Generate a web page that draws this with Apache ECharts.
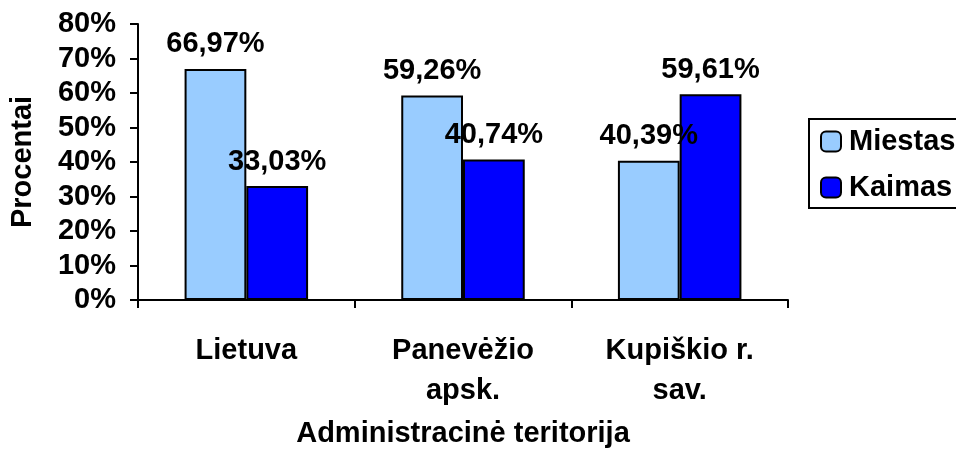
<!DOCTYPE html>
<html>
<head>
<meta charset="utf-8">
<script src="https://cdn.jsdelivr.net/npm/echarts@6/dist/echarts.min.js"></script>
<style>
  html, body { margin: 0; padding: 0; background: #fff; }
  #chart { width: 956px; height: 453px; }
</style>
</head>
<body>
<div id="chart"></div>
<script>
const categories = ['Lietuva', 'Panevėžio\napsk.', 'Kupiškio r.\nsav.']
const miestas = [66.97, 59.26, 40.39]
const kaimas = [33.03, 40.74, 59.61]
const font = '"Liberation Sans", Arial, sans-serif'

const chart = echarts.init(document.getElementById('chart'))

// lithuanian decimal comma
const pct = p => p.value.toFixed(2).replace('.', ',') + '%'

const labelStyle = {
  show: true,
  position: 'top',
  distance: 10,
  formatter: pct,
  color: '#000',
  fontFamily: font,
  fontWeight: 'bold',
  fontSize: 29
}

const option = {
  animation: false,
  backgroundColor: '#fff',
  grid: { left: 136, right: 168, top: 24, bottom: 149 },
  legend: {
    orient: 'vertical',
    left: 809,
    top: 119,
    padding: [8, 20, 6, 11],
    itemWidth: 20,
    itemHeight: 20,
    itemGap: 17,
    borderColor: '#000',
    borderWidth: 2,
    textStyle: { color: '#000', fontFamily: font, fontWeight: 'bold', fontSize: 29, padding: [0, 0, 0, 3] },
    data: ['Miestas', 'Kaimas']
  },
  xAxis: {
    type: 'category',
    data: categories,
    name: 'Administracinė teritorija',
    nameLocation: 'middle',
    nameGap: 119,
    nameTextStyle: { color: '#000', fontFamily: font, fontWeight: 'bold', fontSize: 29 },
    axisLine: { lineStyle: { color: '#000', width: 2 } },
    axisTick: { show: true, length: 8, lineStyle: { color: '#000', width: 2 } },
    axisLabel: { color: '#000', fontFamily: font, fontWeight: 'bold', fontSize: 29, lineHeight: 40, margin: 31, interval: 0 }
  },
  yAxis: {
    type: 'value',
    min: 0,
    max: 80,
    interval: 10,
    name: 'Procentai',
    nameLocation: 'middle',
    nameRotate: 90,
    nameGap: 101,
    nameTextStyle: { color: '#000', fontFamily: font, fontWeight: 'bold', fontSize: 29 },
    axisLine: { show: true, lineStyle: { color: '#000', width: 2 } },
    axisTick: { show: true, length: 8, lineStyle: { color: '#000', width: 2 } },
    splitLine: { show: false },
    axisLabel: { formatter: '{value}%', color: '#000', fontFamily: font, fontWeight: 'bold', fontSize: 29, margin: 22 }
  },
  series: [
    {
      name: 'Miestas',
      type: 'bar',
      data: miestas,
      barGap: '0%',
      barCategoryGap: '43%',
      itemStyle: { color: '#99CCFF', borderColor: '#000', borderWidth: 2 },
      label: labelStyle
    },
    {
      name: 'Kaimas',
      type: 'bar',
      data: kaimas,
      itemStyle: { color: '#0000FF', borderColor: '#000', borderWidth: 2 },
      label: labelStyle
    }
  ]
}

chart.setOption(option)
</script>
</body>
</html>
